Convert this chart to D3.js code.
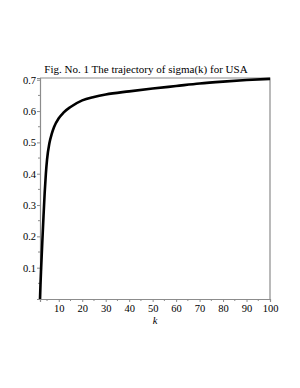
<!DOCTYPE html>
<html>
<head>
<meta charset="utf-8">
<script src="https://cdn.jsdelivr.net/npm/d3@7"></script>
<style>
  body { margin: 0; background: #fff; }
  svg text { font-family: "Liberation Serif", "Times New Roman", serif; }
</style>
</head>
<body>
<div id="chart"></div>
<script>
// Values.
var kValues = [2, 2.2, 2.5, 3, 3.5, 4, 4.5, 5, 6, 7, 8, 10, 12, 15, 20, 25, 30, 40, 50, 60, 70, 80, 90, 100];
var sigmaValues = [0, 0.045, 0.1, 0.185, 0.265, 0.34, 0.4, 0.445, 0.497, 0.527, 0.549, 0.577, 0.595, 0.613, 0.634, 0.645, 0.653, 0.663, 0.672, 0.68, 0.688, 0.694, 0.699, 0.703];
var xTicks = [10, 20, 30, 40, 50, 60, 70, 80, 90, 100];
var yTicks = [0.1, 0.2, 0.3, 0.4, 0.5, 0.6, 0.7];
var titleText = 'Fig. No. 1 The trajectory of sigma(k) for USA';

var data = kValues.map(function(k, i){ return {k: k, sigma: sigmaValues[i]}; });

// Set the margins of the visualization.
var margin = {left: 40, right: 30, top: 78, bottom: 89};
var width = 300 - margin.left - margin.right,
    height = 388 - margin.top - margin.bottom;

var svg = d3.select('#chart')
    .append('svg')
        .attr('width', 300)
        .attr('height', 388)
    .append('g')
        .attr('transform', 'translate(' + margin.left + ', ' + margin.top + ')');

var x = d3.scaleLinear().domain([2, 100]).range([0, width]);
var y = d3.scaleLinear().domain([0, 0.7056]).range([height, 0]);

// Frame on top and right.
svg.append('path')
    .attr('d', 'M0,0H' + width + 'V' + height)
    .attr('fill', 'none')
    .attr('stroke', '#8c8c8c')
    .attr('stroke-width', 1.2);

// Minor ticks.
var xMinor = d3.range(5, 100, 10);
var yMinor = d3.range(0.05, 0.7, 0.1);

var xAxis = svg.append('g')
    .attr('transform', 'translate(0, ' + height + ')')
    .call(d3.axisBottom(x).tickValues(xTicks).tickSize(3).tickPadding(3).tickFormat(d3.format('d')));
svg.append('g')
    .attr('transform', 'translate(0, ' + height + ')')
    .selectAll('line').data(xMinor).enter().append('line')
        .attr('x1', function(d){ return x(d); })
        .attr('x2', function(d){ return x(d); })
        .attr('y1', 0).attr('y2', 2)
        .attr('stroke', '#8c8c8c');

var yAxis = svg.append('g')
    .call(d3.axisLeft(y).tickValues(yTicks).tickSize(3).tickPadding(1).tickFormat(d3.format('.1f')));
svg.append('g')
    .selectAll('line').data(yMinor).enter().append('line')
        .attr('x1', 0).attr('x2', -2)
        .attr('y1', function(d){ return y(d); })
        .attr('y2', function(d){ return y(d); })
        .attr('stroke', '#8c8c8c');

[xAxis, yAxis].forEach(function(a){
    a.select('.domain').attr('stroke', '#8c8c8c').attr('stroke-width', 1.2);
    a.selectAll('.tick line').attr('stroke', '#8c8c8c');
    a.selectAll('.tick text')
        .attr('fill', '#000')
        .style('font-size', '10.5px')
        .style('font-family', '"Liberation Serif", serif');
});

// The curve.
var line = d3.line()
    .x(function(d){ return x(d.k); })
    .y(function(d){ return y(d.sigma); })
    .curve(d3.curveMonotoneX);

svg.append('path')
    .datum(data)
    .attr('d', line)
    .attr('fill', 'none')
    .attr('stroke', '#000')
    .attr('stroke-width', 2.6);

// Title.
svg.append('text')
    .attr('x', 106)
    .attr('y', -5)
    .attr('text-anchor', 'middle')
    .style('font-size', '11px')
    .text(titleText);

// x-axis label.
svg.append('text')
    .attr('x', x(51))
    .attr('y', height + 25)
    .attr('text-anchor', 'middle')
    .style('font-size', '10.5px')
    .style('font-style', 'italic')
    .text('k');
</script>
</body>
</html>
